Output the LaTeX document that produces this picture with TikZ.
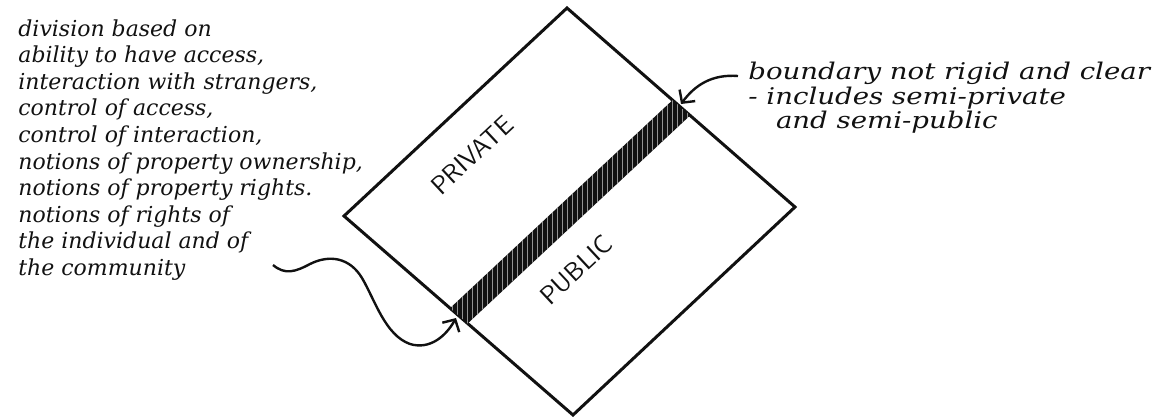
\documentclass[tikz,border=0pt]{standalone}
\usepackage{fontspec}
\newfontfamily\handfont{DejaVu Serif}
\newfontfamily\handwide{DejaVu Serif}[FakeStretch=1.2]
\usetikzlibrary{arrows.meta,calc}
\definecolor{zoneInk}{HTML}{111111}
\tikzset{
  every picture/.style={text=zoneInk},
  zone edge/.style={draw=zoneInk, line width=1.5pt, line join=miter},
  zone band/.style={fill=zoneInk},
  zone streak/.style={draw=white, line width=0.35pt, opacity=0.55},
  zone label/.style={font=\sffamily\fontsize{13}{13}\selectfont, rotate=43, inner sep=0pt},
  zone note/.style={font=\handfont\itshape\fontsize{11}{13.3}\selectfont, align=left, inner sep=0pt},
  zone arrow/.style={-{Straight Barb[length=1.6mm,width=3.4mm]},
    draw=zoneInk, line width=1.2pt}
}

\begin{document}
\begin{tikzpicture}[x=0.5pt,y=-0.5pt]
  \useasboundingbox (0,0) rectangle (1172,419);
  \coordinate (T) at (567,8); \coordinate (R) at (795,207);
  \coordinate (B) at (573,415); \coordinate (L) at (344,216);
  \coordinate (bandLa) at ($(L)!0.463!(B)$); \coordinate (bandLb) at ($(L)!0.54!(B)$);
  \coordinate (bandRa) at ($(T)!0.463!(R)$); \coordinate (bandRb) at ($(T)!0.54!(R)$);
  \draw[zone edge] (T) -- (R) -- (B) -- (L) -- cycle;
  \fill[zone band] (bandLa) -- (bandRa) -- (bandRb) -- (bandLb) -- cycle;
  \begin{scope}
    \clip (bandLa) -- (bandRa) -- (bandRb) -- (bandLb) -- cycle;
    \foreach \x in {452,457,...,692} \draw[zone streak] (\x,90) -- (\x,330);
  \end{scope}
  \node[zone label] (private) at (472,155) {PRIVATE};
  \node[zone label] (public) at (576,270) {PUBLIC};
  \node[zone note, anchor=north west] (leftnote) at (18,19) {division based on\\
    ability to have access,\\
    interaction with strangers,\\
    control of access,\\
    control of interaction,\\
    notions of property ownership,\\
    notions of property rights.\\
    notions of rights of\\
    the individual and of\\
    the community};
  \node[zone note, anchor=north west, font=\handwide\itshape\fontsize{11.5}{11}\selectfont]
    (rightnote) at (748,62) {boundary not rigid and clear\\
    - includes semi-private\\
    \hspace{1.2em}and semi-public};
  \coordinate (leftTail) at (273,265); \coordinate (leftTip) at (456,318);
  \draw[zone arrow] (leftTail) .. controls (285,275) and (295,272) .. (310,264)
    .. controls (330,254) and (350,258) .. (362,278)
    .. controls (375,300) and (385,335) .. (410,344)
    .. controls (430,350) and (446,336) .. (leftTip);
  \coordinate (rightTail) at (738,76); \coordinate (rightTip) at (681,104);
  \draw[zone arrow] (rightTail) .. controls (712,74) and (695,85) .. (rightTip);
\end{tikzpicture}
\end{document}
